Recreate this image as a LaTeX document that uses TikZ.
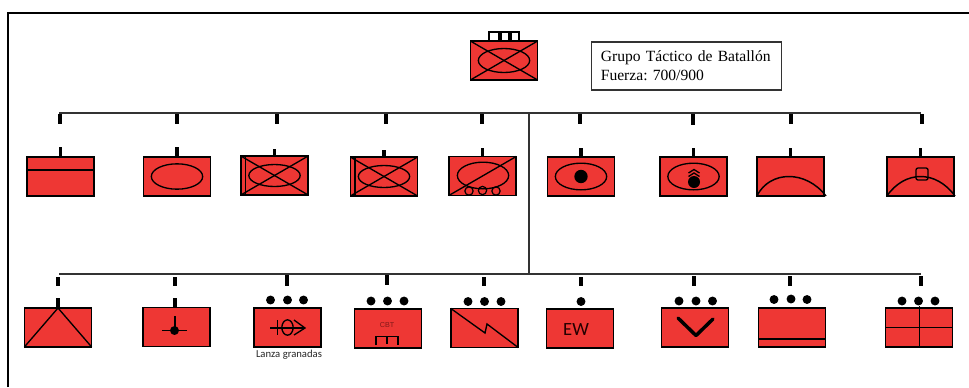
\documentclass[tikz,border=0pt]{standalone}
\usepackage{fontspec}
\setmainfont{Liberation Serif}
\newfontfamily\calfont{Carlito}
\newfontfamily\arialfont{Liberation Sans}
\usetikzlibrary{shapes,positioning}
\definecolor{unitred}{RGB}{238,55,52}
\definecolor{darkred}{RGB}{130,25,25}
\begin{document}
\begin{tikzpicture}[x=0.75pt, y=-0.75pt,
    unit/.style={rectangle, draw, fill=unitred, line width=1.15pt, minimum width=50.5pt, minimum height=29.25pt, inner sep=0pt, outer sep=0pt},
    oval/.style={ellipse, draw, line width=1pt, minimum width=38.5pt, minimum height=18pt, inner sep=0pt, outer sep=0pt},
    dotn/.style={circle, fill=black, minimum size=6.7pt, inner sep=0pt, outer sep=0pt},
    wheel/.style={circle, draw, line width=0.9pt, minimum size=6.2pt, inner sep=0pt, outer sep=0pt},
    sym/.style={line width=1pt},
    tick/.style={line width=2.6pt},
    bus/.style={line width=1.1pt, draw=black!80}]
    \useasboundingbox (0,0) rectangle (969,387);
    % frame
    \coordinate (fbl) at (8,387);
    \coordinate (ftl) at (8,13);
    \coordinate (ftr) at (969,13);
    \draw[line width=1.2pt] (fbl) -- (ftl) -- (ftr);

    % root and info box
    \node [unit] (root) at (504,60.5) {};
    \node [oval] (rootoval) at (root.center) {};
    \draw[sym] (root.north west) -- (root.south east);
    \draw[sym] (root.south west) -- (root.north east);
    \node [rectangle, draw, fill=white, line width=0.8pt, minimum width=22.5pt, minimum height=6.75pt, inner sep=0pt, outer sep=0pt, above=0pt of root] (hq) {};
    \draw[line width=2.3pt] (500,32) -- (500,41);
    \draw[line width=2.3pt] (510,32) -- (510,41);
    \node [rectangle, draw=black!80, line width=1pt, minimum width=142.5pt, minimum height=36pt, inner sep=0pt, text width=128.5pt, align=left, font=\fontsize{11.7pt}{14.2pt}\selectfont\frenchspacing] (info) at (686.5,66) {Grupo Táctico de Batallón\\Fuerza: 700/900};

    % buses
    \coordinate (busa) at (59,113);
    \coordinate (busb) at (921,113);
    \coordinate (busm) at (529,113);
    \coordinate (busc) at (59,274);
    \coordinate (busd) at (921,274);
    \coordinate (buse) at (529,274);
    \draw[bus] (busa) -- (busb);
    \draw[bus] (busc) -- (busd);
    \draw[bus] (busm) -- (buse);

    % first row
    \node [unit] (cmd) at (60.5,176.5) {};
    \node [unit] (recon) at (177,176.5) {};
    \node [unit] (mecha) at (274.5,175.5) {};
    \node [unit] (mechb) at (384,176.5) {};
    \node [unit] (wheeled) at (482.5,176) {};
    \node [unit] (mortar) at (581,176.5) {};
    \node [unit] (mortarb) at (693.5,176.5) {};
    \node [unit] (airdef) at (790.5,176.5) {};
    \node [unit] (airdefb) at (920.5,176.5) {};
    \draw[tick] (cmd.north) -- ++(0,-10);
    \draw[tick] (recon.north) -- ++(0,-10);
    \draw[tick] (mecha.north) -- ++(0,-7);
    \draw[tick] (mechb.north) -- ++(0,-7);
    \draw[tick] (wheeled.north) -- ++(0,-9);
    \draw[tick] (mortar.north) -- ++(0,-9);
    \draw[tick] (mortarb.north) -- ++(0,-9);
    \draw[tick] (airdef.north) -- ++(0,-9);
    \draw[tick] (airdefb.north) -- ++(0,-9);
    \draw[tick] (60,114) -- ++(0,10);
    \draw[tick] (177,114) -- ++(0,10);
    \draw[tick] (277,114) -- ++(0,10);
    \draw[tick] (386,114) -- ++(0,10);
    \draw[tick] (482,114) -- ++(0,10);
    \draw[tick] (580,114) -- ++(0,10);
    \draw[tick] (693,114) -- ++(0,11);
    \draw[tick] (791,114) -- ++(0,10);
    \draw[tick] (922,114) -- ++(0,10);

    % symbols of the first row
    \draw[sym] (cmd.west |- 0,170) -- (cmd.east |- 0,170);
    \node [oval, minimum height=19pt] (reconoval) at (recon.center) {};
    \node [oval, minimum height=16.5pt] (mechaoval) at (mecha.center) {};
    \draw[sym] (mecha.north west) -- (mecha.south east);
    \draw[sym] (mecha.south west) -- (mecha.north east);
    \draw[sym] (245.5,156) -- (245.5,195);
    \node [oval, minimum height=16.5pt] (mechboval) at (mechb.center) {};
    \draw[sym] (mechb.north west) -- (mechb.south east);
    \draw[sym] (mechb.south west) -- (mechb.north east);
    \draw[sym] (355,157) -- (355,196);
    \node [oval, minimum height=20pt] (wheeledoval) at (483,175.5) {};
    \draw[sym] (wheeled.south west) -- (wheeled.north east);
    \node [wheel] (wheela) at (469,191) {};
    \node [wheel] (wheelb) at (482.5,190.5) {};
    \node [wheel] (wheelc) at (496,191) {};
    \node [oval, minimum height=20pt] (mortaroval) at (mortar.center) {};
    \node [dotn, minimum size=10pt] (mortardot) at (mortar.center) {};
    \node [oval, minimum height=20pt] (mortarboval) at (mortarb.center) {};
    \node [dotn, minimum size=9pt] (mortarbdot) at (694,182) {};
    \draw[sym] (688.5,173) -- (694,169.5) -- (699.5,173);
    \draw[sym] (688.5,176.5) -- (694,173) -- (699.5,176.5);
    \draw[sym, line width=1.1pt] (airdef.south west) .. controls (770,170) and (806,170) .. (826,196);
    \draw[sym, line width=1.1pt] (airdefb.south west) .. controls (905,170) and (936,170) .. (955,196);
    \node [rectangle, draw, rounded corners=1.5pt, line width=1pt, minimum width=9pt, minimum height=9pt, inner sep=0pt] (airdefbox) at (922,174) {};

    % second row
    \node [unit] (eng) at (58,327.5) {};
    \node [unit] (sigint) at (176.5,327) {};
    \node [unit] (gren) at (287.5,327.5) {};
    \node [unit] (cbt) at (388,328.5) {};
    \node [unit] (signal) at (484.5,328) {};
    \node [unit] (ew) at (580,328.5) {};
    \node [unit] (maint) at (695,327.5) {};
    \node [unit] (supply) at (792,327.5) {};
    \node [unit] (medic) at (919,327.5) {};
    \draw[tick] (eng.north) -- ++(0,-10);
    \draw[tick] (175,307) -- ++(0,-9);
    \draw[tick] (58,277) -- ++(0,9);
    \draw[tick] (175,277) -- ++(0,9);
    \draw[tick] (287,275) -- ++(0,11);
    \draw[tick] (387,275) -- ++(0,10);
    \draw[tick] (484,277) -- ++(0,9);
    \draw[tick] (581,277) -- ++(0,9);
    \draw[tick] (694,276) -- ++(0,10);
    \draw[tick] (790,276) -- ++(0,10);
    \draw[tick] (921,276) -- ++(0,10);

    % strength dots
    \node [dotn] (grena) at (270.5,300) {};
    \node [dotn] (grenb) at (287.5,300) {};
    \node [dotn] (grenc) at (303.5,300) {};
    \node [dotn] (cbta) at (371,301) {};
    \node [dotn] (cbtb) at (387.5,301) {};
    \node [dotn] (cbtc) at (404,301) {};
    \node [dotn] (signala) at (468,301.5) {};
    \node [dotn] (signalb) at (484.5,301.5) {};
    \node [dotn] (signalc) at (501,301.5) {};
    \node [dotn] (ewa) at (581,301.5) {};
    \node [dotn] (mainta) at (679,301) {};
    \node [dotn] (maintb) at (696,301) {};
    \node [dotn] (maintc) at (712.5,301) {};
    \node [dotn] (supplya) at (774,299.5) {};
    \node [dotn] (supplyb) at (791,299) {};
    \node [dotn] (supplyc) at (807,299.5) {};
    \node [dotn] (medica) at (902,301) {};
    \node [dotn] (medicb) at (918.5,301) {};
    \node [dotn] (medicc) at (935,301) {};

    % symbols of the second row
    \draw[sym] (eng.south west) -- (eng.north) -- (eng.south east);
    \draw[sym] (175,316) -- (175,330);
    \draw[sym] (162,330.5) -- (187,330.5);
    \node [dotn] (sigintdot) at (174.5,330.5) {};
    \draw[sym] (270,328) -- (305,328);
    \draw[sym] (277.5,320) -- (277.5,335);
    \node [ellipse, draw, line width=1pt, minimum width=8.5pt, minimum height=11.5pt, inner sep=0pt] (grenoval) at (287.5,327.5) {};
    \draw[sym] (294,320) -- (305,328) -- (294,335);
    \node [font=\calfont\fontsize{8pt}{9pt}\selectfont, text=black!85, inner sep=0pt] (grenlabel) at (289,355) {Lanza granadas};
    \node [font=\arialfont\fontsize{5.4pt}{6pt}\selectfont, text=darkred, inner sep=0pt] (cbtlabel) at (387,325) {CBT};
    \draw[sym] (376,345) -- (376,336.5) -- (398,336.5) -- (398,345);
    \draw[sym] (387,336.5) -- (387,344);
    \draw[sym] (signal.north west) -- (485,333) -- (487,324) -- (signal.south east);
    \node [font=\calfont\fontsize{14pt}{16pt}\selectfont, text=black!85!red, inner sep=0pt] (ewlabel) at (576,329) {EW};
    \draw[line width=2.6pt, line cap=round, line join=round] (678,318) -- (696,335.5) -- (713,319);
    \draw[sym] (supply.west |- 0,339) -- (supply.east |- 0,339);
    \draw[sym] (919.5,306) -- (medic.south -| 919.5,0);
    \draw[sym] (medic.west) -- (medic.east);
\end{tikzpicture}
\end{document}
